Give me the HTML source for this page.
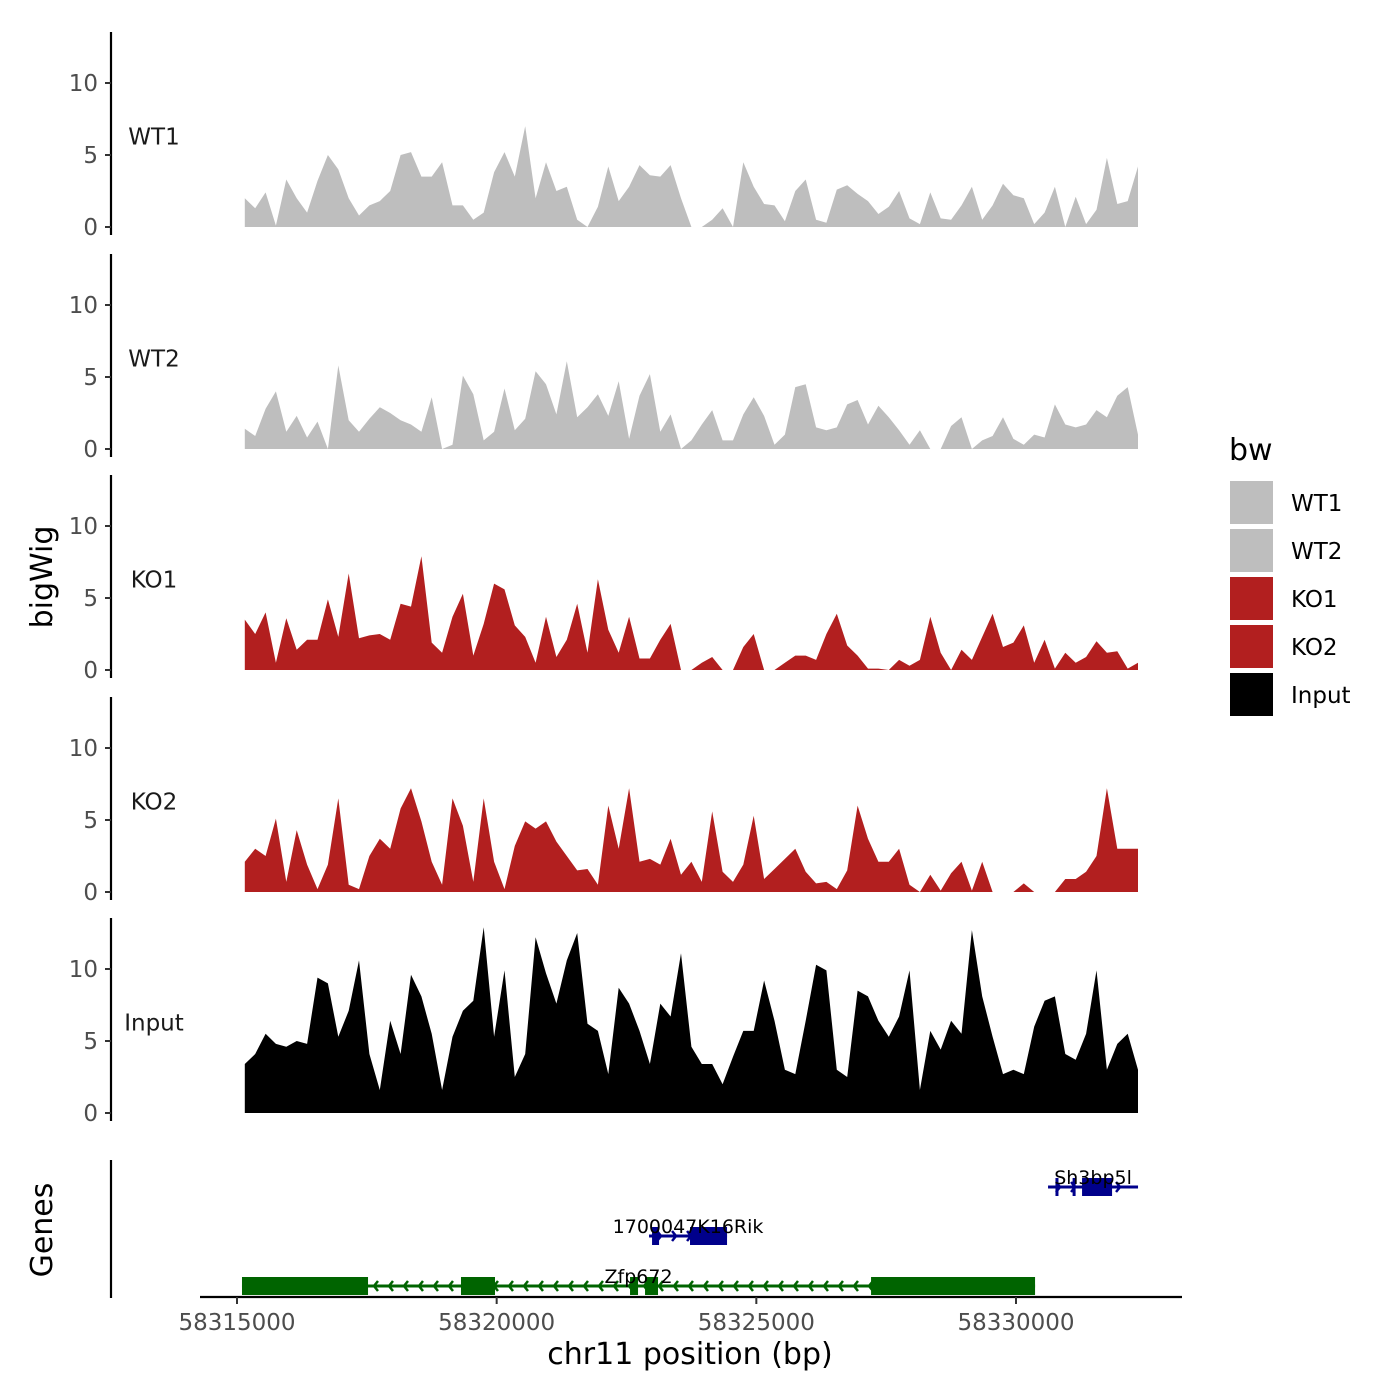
<!DOCTYPE html>
<html><head><meta charset="utf-8"><style>
html,body{margin:0;padding:0;background:#fff;}
svg{display:block;font-family:"DejaVu Sans","Liberation Sans",sans-serif;}
</style></head><body>
<svg id="chart" width="1400" height="1400" viewBox="0 0 1400 1400" xmlns="http://www.w3.org/2000/svg">
<rect width="1400" height="1400" fill="#fff"/>
<g id="tracks"></g>
<g id="genes"></g>
<g id="xaxis"></g>
<text x="52" y="577" font-size="30" fill="#000" text-anchor="middle" transform="rotate(-90 52 577)">bigWig</text>
<text x="52" y="1230" font-size="30" fill="#000" text-anchor="middle" transform="rotate(-90 52 1230)">Genes</text>
<text x="690" y="1364" font-size="30" fill="#000" text-anchor="middle">chr11 position (bp)</text>
<g id="legend">
<text x="1229" y="460" font-size="30" fill="#000">bw</text>
</g>
</svg>
<script>
const NS='http://www.w3.org/2000/svg';
const binStart=58315150, binSize=200;
const trackNames=['WT1','WT2','KO1','KO2','Input'];
const trackColors=['#bebebe','#bebebe','#b21f1f','#b21f1f','#000000'];
const wt1=[2.0,1.3,2.4,0.1,3.3,2.0,1.0,3.2,5.0,4.0,2.0,0.8,1.5,1.8,2.5,5.0,5.2,3.5,3.5,4.5,1.5,1.5,0.5,1.0,3.8,5.2,3.5,7.0,2.0,4.5,2.5,2.8,0.5,0,1.4,4.2,1.8,2.8,4.3,3.6,3.5,4.3,2.0,0,0,0.5,1.3,0,4.5,2.8,1.6,1.5,0.4,2.5,3.3,0.5,0.3,2.6,2.9,2.3,1.8,0.9,1.4,2.5,0.6,0.2,2.4,0.6,0.5,1.5,2.8,0.5,1.5,3.0,2.2,2.0,0.2,1.0,2.8,0,2.1,0.2,1.2,4.8,1.6,1.8,4.2];
const wt2=[1.4,0.9,2.8,4.0,1.2,2.3,0.8,1.9,0,5.8,2.0,1.2,2.1,2.9,2.5,2.0,1.7,1.2,3.6,0,0.3,5.1,3.8,0.6,1.2,4.2,1.3,2.1,5.4,4.5,2.4,6.1,2.2,2.9,3.8,2.3,4.7,0.7,3.7,5.2,1.2,2.4,0,0.6,1.7,2.7,0.6,0.6,2.4,3.6,2.3,0.3,1.0,4.3,4.5,1.5,1.3,1.5,3.1,3.4,1.7,3.0,2.2,1.3,0.3,1.3,0,0,1.6,2.2,0,0.6,0.9,2.2,0.7,0.3,1.0,0.8,3.1,1.7,1.5,1.7,2.7,2.2,3.7,4.3,1.0];
const ko1=[3.5,2.5,4.0,0.5,3.6,1.4,2.1,2.1,4.9,2.3,6.7,2.2,2.4,2.5,2.1,4.6,4.4,7.9,1.9,1.2,3.7,5.3,1.0,3.2,6.0,5.6,3.1,2.3,0.5,3.7,0.9,2.1,4.6,1.2,6.3,2.8,1.2,3.7,0.8,0.8,2.1,3.2,0,0,0.5,0.9,0,0,1.6,2.5,0,0,0.5,1.0,1.0,0.7,2.5,3.9,1.7,1.0,0.1,0.1,0,0.7,0.3,0.7,3.7,1.2,0,1.4,0.7,2.3,3.9,1.6,1.9,3.1,0.5,2.1,0.1,1.2,0.5,0.9,2.0,1.2,1.3,0.1,0.5];
const ko2=[2.1,3.0,2.5,5.1,0.7,4.3,1.9,0.2,1.9,6.5,0.5,0.2,2.5,3.7,3.0,5.8,7.2,4.9,2.1,0.5,6.5,4.6,0.7,6.5,2.1,0.2,3.2,4.9,4.4,4.9,3.5,2.5,1.5,1.6,0.5,6.0,3.0,7.2,2.1,2.3,1.9,3.7,1.2,2.1,0.7,5.6,1.4,0.7,1.9,5.3,0.9,1.6,2.3,3.0,1.4,0.6,0.7,0.2,1.5,6.0,3.7,2.1,2.1,3.0,0.5,0,1.2,0.1,1.3,2.1,0.1,2.1,0,0,0,0.6,0,0,0,0.9,0.9,1.4,2.5,7.2,3.0,3.0,3.0];
const input=[3.4,4.1,5.5,4.8,4.6,5.0,4.8,9.4,9.0,5.3,7.1,10.6,4.1,1.6,6.4,4.1,9.6,8.1,5.5,1.6,5.3,7.1,7.8,12.9,5.3,9.9,2.5,4.1,12.2,9.7,7.6,10.6,12.5,6.2,5.7,2.7,8.7,7.6,5.7,3.4,7.6,6.7,11.1,4.6,3.4,3.4,2.0,3.9,5.7,5.7,9.2,6.4,3.0,2.7,6.4,10.3,9.9,3.0,2.5,8.5,8.1,6.4,5.3,6.7,9.9,1.6,5.7,4.4,6.4,5.5,12.7,8.1,5.3,2.7,3.0,2.7,6.0,7.8,8.1,4.1,3.7,5.5,9.9,3.0,4.8,5.5,3.0];
const trackValues=[wt1,wt2,ko1,ko2,input];
const yTicks=[0,5,10];
const xTicks=[58315000,58320000,58325000,58330000];
const xTickLabels=['58315000','58320000','58325000','58330000'];
const geneNames=['Zfp672','1700047K16Rik','Sh3bp5l'];
const geneStart=[58315096,58322934,58330617];
const geneEnd=[58330367,58324436,58332350];
const geneStrand=['-','+','+'];
const geneRow=[0,1,2];
const geneColors=['#006400','#00008b','#00008b'];
const zfpExonStart=[58315096,58319313,58322568,58322857,58327209];
const zfpExonEnd=[58317523,58319968,58322722,58323107,58330367];
const rikExonStart=[58322992,58323723];
const rikExonEnd=[58323127,58324436];
const shExonStart=[58330760,58331090,58331272];
const shExonEnd=[58330800,58331130,58331850];
const exonStarts=[zfpExonStart,rikExonStart,shExonStart];
const exonEnds=[zfpExonEnd,rikExonEnd,shExonEnd];

const X=bp=>237+(bp-58315000)*0.051933;
const panelZero=[227,449,670,892,1113];
const Y=(p,v)=>panelZero[p]-v*14.4;

function mk(tag,attrs,parent){const e=document.createElementNS(NS,tag);for(const k in attrs)e.setAttribute(k,attrs[k]);parent.appendChild(e);return e;}

const tg=document.getElementById('tracks');
for(let p=0;p<5;p++){
  const g=mk('g',{},tg);
  
  
  const top=panelZero[p]-195, bot=panelZero[p]+8;
  const ax=mk('line',{x1:111,x2:111,y1:top,y2:bot,stroke:'#000','stroke-width':2.2},g);
  
  
  yTicks.forEach(t=>{
    const tl=mk('line',{x1:105,x2:111,y1:Y(p,t),y2:Y(p,t),stroke:'#333','stroke-width':2},g);
    
    
    const tx=mk('text',{x:98,y:Y(p,t)+8,'font-size':23,fill:'#4d4d4d','text-anchor':'end'},g);
    tx.textContent=t;
    
    
  });
  const vals=trackValues[p];
  let d='M'+X(binStart).toFixed(1)+','+panelZero[p];
  vals.forEach((v,i)=>{d+=' L'+X(binStart+i*binSize).toFixed(1)+','+Y(p,v).toFixed(1);});
  d+=' L'+X(binStart+(vals.length-1)*binSize).toFixed(1)+','+panelZero[p]+' Z';
  const area=mk('path',{d:d,fill:trackColors[p]},g);
  
  
  const lb=mk('text',{x:154,y:Y(p,6.3)+8,'font-size':23,fill:'#1a1a1a','text-anchor':'middle'},g);
  lb.textContent=trackNames[p];
  
  
}

const lg=document.getElementById('legend');
trackNames.forEach((n,i)=>{
  const r=mk('rect',{x:1230,y:481+i*48,width:43,height:43,fill:trackColors[i]},lg);
  
  
  const t=mk('text',{x:1291,y:511+i*48,'font-size':23,fill:'#000'},lg);
  t.textContent=n;
  
  
});

const gg=document.getElementById('genes');
const rowY=[1286,1236,1187];
const gax=mk('line',{x1:111,x2:111,y1:1160,y2:1298,stroke:'#000','stroke-width':2.2},gg);


geneNames.forEach((n,i)=>{
  const g=mk('g',{},gg);
  
  
  const y=rowY[geneRow[i]], c=geneColors[i];
  const x1=X(geneStart[i]), x2=X(geneEnd[i]);
  mk('line',{x1:x1,x2:x2,y1:y,y2:y,stroke:c,'stroke-width':3},g);
  for(let x=x1+12;x<x2-6;x+=15){
    const s=geneStrand[i]==='+'?1:-1;
    mk('polyline',{points:(x-4*s)+','+(y-5)+' '+x+','+y+' '+(x-4*s)+','+(y+5),fill:'none',stroke:c,'stroke-width':2.5},g);
  }
  exonStarts[i].forEach((s,k)=>{
    const xa=X(s), xb=X(exonEnds[i][k]);
    const r=mk('rect',{x:xa,y:y-9,width:Math.max(xb-xa,3),height:18,fill:c},g);
    
    
  });
  const t=mk('text',{x:(x1+x2)/2,y:y-3,'font-size':19,fill:'#000','text-anchor':'middle'},g);
  t.textContent=n;
  
  
});

const xg=document.getElementById('xaxis');
const xl=mk('line',{x1:200,x2:1182,y1:1297,y2:1297,stroke:'#000','stroke-width':2.2},xg);


xTicks.forEach((t,i)=>{
  const l=mk('line',{x1:X(t),x2:X(t),y1:1297,y2:1304,stroke:'#333','stroke-width':2},xg);
  
  
  const tx=mk('text',{x:X(t),y:1330,'font-size':23,fill:'#4d4d4d','text-anchor':'middle'},xg);
  tx.textContent=xTickLabels[i];
  
  
});
</script>
</body></html>
